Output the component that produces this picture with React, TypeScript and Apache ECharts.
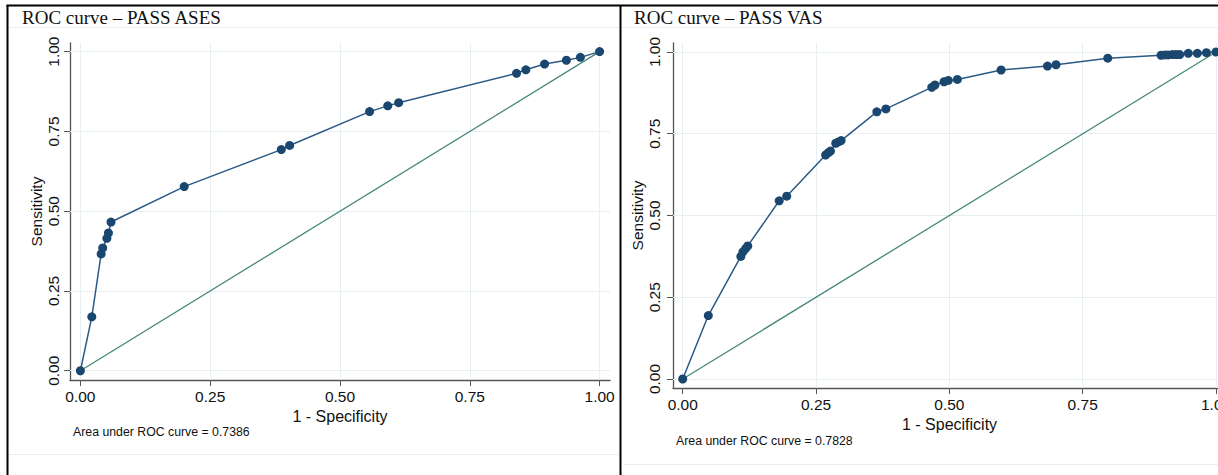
import React, { useEffect, useRef } from "react";
import * as echarts from "echarts";

// ---- data ----
const tickValues = [0, 0.25, 0.5, 0.75, 1];
const panelTitles = ["ROC curve \u2013 PASS ASES", "ROC curve \u2013 PASS VAS"];
const aucTexts = ["Area under ROC curve = 0.7386", "Area under ROC curve = 0.7828"];
const xTitle = "1 - Specificity";
const yTitle = "Sensitivity";

const asesFpr = [0, 0.022, 0.040, 0.043, 0.051, 0.054, 0.059, 0.200, 0.387, 0.403, 0.557, 0.592, 0.613, 0.840, 0.858, 0.894, 0.936, 0.963, 1];
const asesTpr = [0, 0.169, 0.366, 0.385, 0.415, 0.432, 0.466, 0.577, 0.693, 0.706, 0.812, 0.830, 0.840, 0.932, 0.943, 0.961, 0.973, 0.982, 1];

const vasFpr = [0, 0.048, 0.109, 0.113, 0.118, 0.122, 0.181, 0.195, 0.268, 0.273, 0.277, 0.287, 0.292, 0.297, 0.364, 0.381, 0.467, 0.473, 0.490, 0.498, 0.515, 0.597, 0.684, 0.700, 0.797, 0.897, 0.904, 0.910, 0.918, 0.925, 0.932, 0.948, 0.965, 0.982, 1];
const vasTpr = [0, 0.194, 0.375, 0.389, 0.399, 0.407, 0.545, 0.559, 0.685, 0.692, 0.697, 0.721, 0.725, 0.729, 0.817, 0.826, 0.892, 0.899, 0.909, 0.913, 0.916, 0.945, 0.957, 0.961, 0.981, 0.990, 0.991, 0.991, 0.992, 0.992, 0.992, 0.996, 0.996, 0.998, 1];

const refX = [0, 1];
const refY = [0, 1];

const zip = (a: number[], b: number[]) => a.map((v, i) => [v, b[i]]);

const NAVY = "#1a476f";
const GREEN = "#47887a";
const GRIDC = "#e7eff2";
const AXISC = "#555555";
const SANS = "'Liberation Sans', Arial, Helvetica, sans-serif";
const SERIF = "'Liberation Serif', 'Times New Roman', serif";

export default function App() {
  const ref = useRef<HTMLDivElement>(null);
  useEffect(() => {
    if (!ref.current) return;
    const chart = echarts.init(ref.current, undefined, { renderer: "svg" });

    const grids = [
      { left: 70, top: 43, width: 540, height: 337 },
      { left: 673, top: 43, width: 553, height: 345 },
    ];
    const xRanges = [[-0.02, 1.02], [-0.0182, 1.0187]];
    const yRanges = [[-0.029, 1.027], [-0.0275, 1.0275]];
    const labelMarginY = [9, 11];

    const mkX = (i: number) => ({
      type: "value",
      gridIndex: i,
      min: xRanges[i][0],
      max: xRanges[i][1],
      name: xTitle,
      nameLocation: "middle",
      nameGap: 22,
      nameTextStyle: { fontFamily: SANS, fontSize: 16, color: "#111" },
      axisLine: { show: true, onZero: false, lineStyle: { color: AXISC, width: 1.3 } },
      axisTick: { show: true, length: 6, customValues: tickValues, lineStyle: { color: AXISC, width: 1 } },
      axisLabel: {
        show: true,
        customValues: tickValues,
        margin: 8,
        fontFamily: SANS,
        fontSize: 15.5,
        color: "#111",
        formatter: (v: number) => v.toFixed(2),
      },
      splitLine: { show: false },
    });
    const mkY = (i: number) => ({
      type: "value",
      gridIndex: i,
      min: yRanges[i][0],
      max: yRanges[i][1],
      name: yTitle,
      nameLocation: "middle",
      nameGap: 26,
      nameTextStyle: { fontFamily: SANS, fontSize: 15.5, color: "#111" },
      axisLine: { show: true, onZero: false, lineStyle: { color: AXISC, width: 1.3 } },
      axisTick: { show: true, length: 6, customValues: tickValues, lineStyle: { color: AXISC, width: 1 } },
      axisLabel: {
        show: true,
        customValues: tickValues,
        rotate: 90,
        margin: labelMarginY[i],
        fontFamily: SANS,
        fontSize: 15.5,
        color: "#111",
        formatter: (v: number) => v.toFixed(2),
      },
      splitLine: { show: false },
    });

    const panelSeries = (i: number, fpr: number[], tpr: number[]) => [
      {
        type: "line",
        xAxisIndex: i,
        yAxisIndex: i,
        data: [],
        z: 1,
        silent: true,
        markLine: {
          silent: true,
          animation: false,
          z: 1,
          symbol: ["none", "none"],
          label: { show: false },
          emphasis: { disabled: true },
          lineStyle: { color: GRIDC, width: 1, type: "solid" },
          data: [
            ...tickValues.map((v) => ({ xAxis: v })),
            ...tickValues.map((v) => ({ yAxis: v })),
          ],
        },
      },
      {
        type: "line",
        xAxisIndex: i,
        yAxisIndex: i,
        data: zip(refX, refY),
        showSymbol: false,
        symbol: "none",
        z: 9,
        silent: true,
        lineStyle: { color: GREEN, width: 1.3 },
      },
      {
        type: "line",
        xAxisIndex: i,
        yAxisIndex: i,
        data: zip(fpr, tpr),
        symbol: "circle",
        symbolSize: 9,
        showSymbol: true,
        z: 10,
        silent: true,
        itemStyle: { color: NAVY },
        lineStyle: { color: "#2b5a86", width: 1.5 },
      },
    ];

    const hline = (x1: number, x2: number, y: number, color: string, w: number) => ({
      type: "line",
      silent: true,
      shape: { x1, y1: y, x2, y2: y },
      style: { stroke: color, lineWidth: w },
    });
    const vline = (x: number, y1: number, y2: number, color: string, w: number) => ({
      type: "line",
      silent: true,
      shape: { x1: x, y1, x2: x, y2 },
      style: { stroke: color, lineWidth: w },
    });
    const txt = (x: number, y: number, text: string, font: string) => ({
      type: "text",
      silent: true,
      x,
      y,
      style: { text, font, fill: "#111", align: "left", verticalAlign: "middle" },
    });

    chart.setOption({
      animation: false,
      backgroundColor: "#ffffff",
      grid: grids.map((g) => ({ ...g, containLabel: false, outerBoundsMode: "none" })),
      xAxis: [mkX(0), mkX(1)],
      yAxis: [mkY(0), mkY(1)],
      series: [...panelSeries(0, asesFpr, asesTpr), ...panelSeries(1, vasFpr, vasTpr)],
      graphic: [
        hline(9, 619, 27.5, GRIDC, 1),
        hline(623, 1218, 27.5, GRIDC, 1),
        hline(9, 619, 454.5, GRIDC, 1),
        hline(623, 1218, 464.5, GRIDC, 1),
        hline(6.5, 1218, 5.5, "#000", 2),
        vline(7.5, 5, 475, "#000", 2),
        vline(620.5, 5, 475, "#000", 2),
        txt(22, 17.5, panelTitles[0], `19px ${SERIF}`),
        txt(634, 17.5, panelTitles[1], `19px ${SERIF}`),
        txt(73, 432, aucTexts[0], `12.3px ${SANS}`),
        txt(676, 441, aucTexts[1], `12.3px ${SANS}`),
      ],
    });
    return () => chart.dispose();
  }, []);
  return (
    <div
      ref={ref}
      style={{ position: "fixed", left: 0, top: 0, width: 1218, height: 475 }}
    />
  );
}
